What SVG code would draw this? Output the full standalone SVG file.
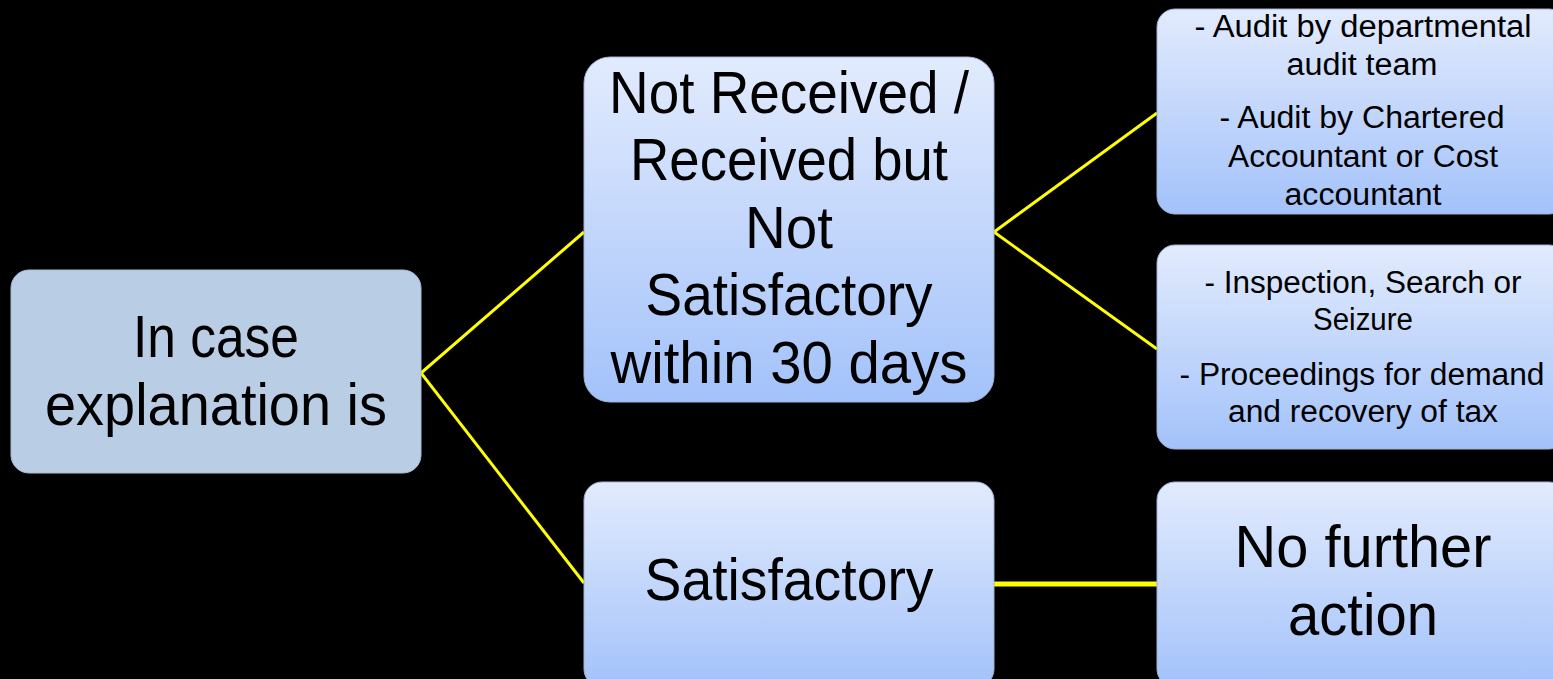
<svg xmlns="http://www.w3.org/2000/svg" width="1553" height="679" viewBox="0 0 1553 679">
<style>
.t{font-family:"Liberation Sans",Arial,sans-serif;fill:#000;text-anchor:middle}
.big{font-size:60px}
.sm{font-size:31px}
.box{fill:url(#g);stroke:#9fb3d3;stroke-width:1}
.con{stroke:#ffff00;fill:none;stroke-width:3}
</style>
<defs>
<linearGradient id="g" x1="0" y1="0" x2="0" y2="1">
<stop offset="0" stop-color="#e2ebfd"/>
<stop offset="1" stop-color="#a3c2fa"/>
</linearGradient>
</defs>
<rect width="1553" height="679" fill="#000"/>
<g id="connectors">
<polyline class="con" points="584,232 421,373 584,583"/>
<polyline class="con" points="1157,113 994,232 1157,349"/>
<line class="con" x1="994" y1="584" x2="1157" y2="584" style="stroke-width:5"/>
</g>
<g id="node-a">
<rect x="11" y="270" width="410" height="203" rx="18" fill="#b9cde5" stroke="#a9bcd6"/>
<text class="t big" x="216" y="357" textLength="166" lengthAdjust="spacingAndGlyphs">In case</text>
<text class="t big" x="216" y="425" textLength="342" lengthAdjust="spacingAndGlyphs">explanation is</text>
</g>
<g id="node-b">
<rect class="box" x="584" y="57" width="410" height="345" rx="26"/>
<text class="t big" x="789" y="113" textLength="360" lengthAdjust="spacingAndGlyphs">Not Received /</text>
<text class="t big" x="789" y="180" textLength="318" lengthAdjust="spacingAndGlyphs">Received but</text>
<text class="t big" x="789" y="248" textLength="88" lengthAdjust="spacingAndGlyphs">Not</text>
<text class="t big" x="789" y="315" textLength="287" lengthAdjust="spacingAndGlyphs">Satisfactory</text>
<text class="t big" x="789" y="383" textLength="357" lengthAdjust="spacingAndGlyphs">within 30 days</text>
</g>
<g id="node-c1">
<rect class="box" x="1157" y="9" width="410" height="205" rx="18"/>
<text class="t sm" x="1363" y="37" textLength="337" lengthAdjust="spacingAndGlyphs">- Audit by departmental</text>
<text class="t sm" x="1362" y="75" textLength="151" lengthAdjust="spacingAndGlyphs">audit team</text>
<text class="t sm" x="1362" y="128" textLength="285" lengthAdjust="spacingAndGlyphs">- Audit by Chartered</text>
<text class="t sm" x="1363" y="167" textLength="270" lengthAdjust="spacingAndGlyphs">Accountant or Cost</text>
<text class="t sm" x="1363" y="205" textLength="157" lengthAdjust="spacingAndGlyphs">accountant</text>
</g>
<g id="node-c2">
<rect class="box" x="1157" y="245" width="410" height="204" rx="18"/>
<text class="t sm" x="1363" y="293" textLength="317" lengthAdjust="spacingAndGlyphs">- Inspection, Search or</text>
<text class="t sm" x="1363" y="330" textLength="100" lengthAdjust="spacingAndGlyphs">Seizure</text>
<text class="t sm" x="1362" y="385" textLength="365" lengthAdjust="spacingAndGlyphs">- Proceedings for demand</text>
<text class="t sm" x="1363" y="422" textLength="270" lengthAdjust="spacingAndGlyphs">and recovery of tax</text>
</g>
<g id="node-d">
<rect class="box" x="584" y="482" width="410" height="205" rx="18"/>
<text class="t big" x="789" y="600" textLength="289" lengthAdjust="spacingAndGlyphs">Satisfactory</text>
</g>
<g id="node-e">
<rect class="box" x="1157" y="482" width="410" height="205" rx="18"/>
<text class="t big" x="1363" y="567" textLength="257" lengthAdjust="spacingAndGlyphs">No further</text>
<text class="t big" x="1363" y="635" textLength="150" lengthAdjust="spacingAndGlyphs">action</text>
</g>
</svg>
